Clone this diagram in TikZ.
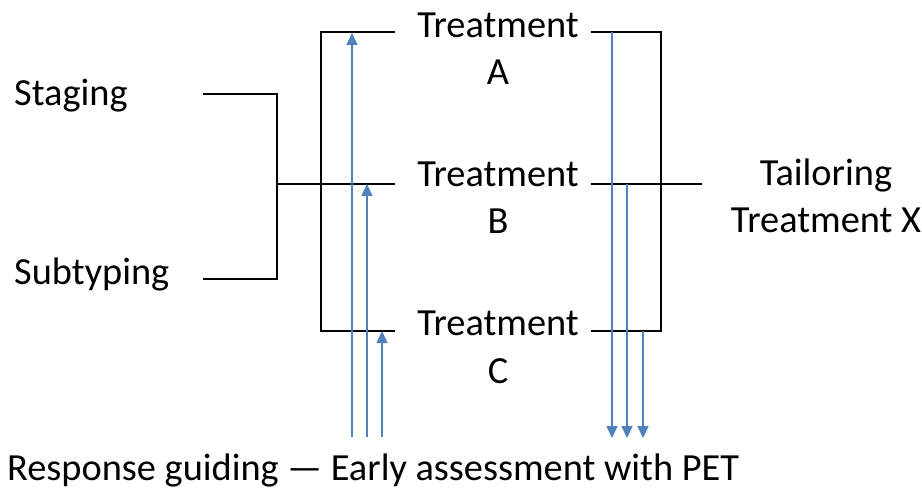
\documentclass[tikz,border=0pt]{standalone}
\usepackage{fontspec}
\setmainfont{Carlito}
\usetikzlibrary{arrows.meta}
\definecolor{arrowblue}{RGB}{79,129,189}
\tikzset{
  lbl/.style={font=\fontsize{38.5}{48}\selectfont, inner sep=0pt, align=center},
  bk/.style={draw=black, line width=1.6bp},
  bl/.style={draw=arrowblue, line width=1.6bp, -{Triangle[width=11bp,length=12bp]}}
}
\begin{document}
\begin{tikzpicture}[x=1bp,y=-1bp]
\useasboundingbox (0,0) rectangle (922,489);
% text nodes (base = baseline of last line)
\node[lbl, anchor=base] (tA) at (498,85) {Treatment\\A};
\node[lbl, anchor=base] (tB) at (498,234) {Treatment\\B};
\node[lbl, anchor=base] (tC) at (498,383) {Treatment\\C};
\node[lbl, anchor=base west] (stag) at (14,106) {Staging};
\node[lbl, anchor=base west] (sub) at (14,285) {Subtyping};
\node[lbl, anchor=base] (tX) at (826,233) {Tailoring\\Treatment X};
\node[lbl, anchor=base west] (bot) at (7,480) {Response guiding — Early assessment with PET};
% coordinates
\coordinate (s1) at (203,94);
\coordinate (s2) at (277,94);
\coordinate (u1) at (203,279);
\coordinate (u2) at (277,279);
\coordinate (m0) at (277,184);
\coordinate (L1) at (395,32);
\coordinate (L2) at (321,32);
\coordinate (L3) at (321,331);
\coordinate (L4) at (395,331);
\coordinate (LB) at (395,184);
\coordinate (R1) at (591,32);
\coordinate (R2) at (661,32);
\coordinate (R3) at (661,331);
\coordinate (R4) at (591,331);
\coordinate (RB) at (591,184);
\coordinate (RX) at (702,184);
% black bracket lines
\draw[bk] (s1) -- (s2) -- (u2) -- (u1);
\draw[bk] (m0) -- (LB);
\draw[bk] (L1) -- (L2) -- (L3) -- (L4);
\draw[bk] (R1) -- (R2) -- (R3) -- (R4);
\draw[bk] (RB) -- (RX);
% blue arrows up
\coordinate (a1b) at (352,437); \coordinate (a1t) at (352,33);
\coordinate (a2b) at (367,437); \coordinate (a2t) at (367,184);
\coordinate (a3b) at (382,437); \coordinate (a3t) at (382,331);
\draw[bl] (a1b) -- (a1t);
\draw[bl] (a2b) -- (a2t);
\draw[bl] (a3b) -- (a3t);
% blue arrows down
\coordinate (d1t) at (612,32); \coordinate (d1b) at (612,438);
\coordinate (d2t) at (627,184); \coordinate (d2b) at (627,438);
\coordinate (d3t) at (643,331); \coordinate (d3b) at (643,438);
\draw[bl] (d1t) -- (d1b);
\draw[bl] (d2t) -- (d2b);
\draw[bl] (d3t) -- (d3b);
\end{tikzpicture}
\end{document}
